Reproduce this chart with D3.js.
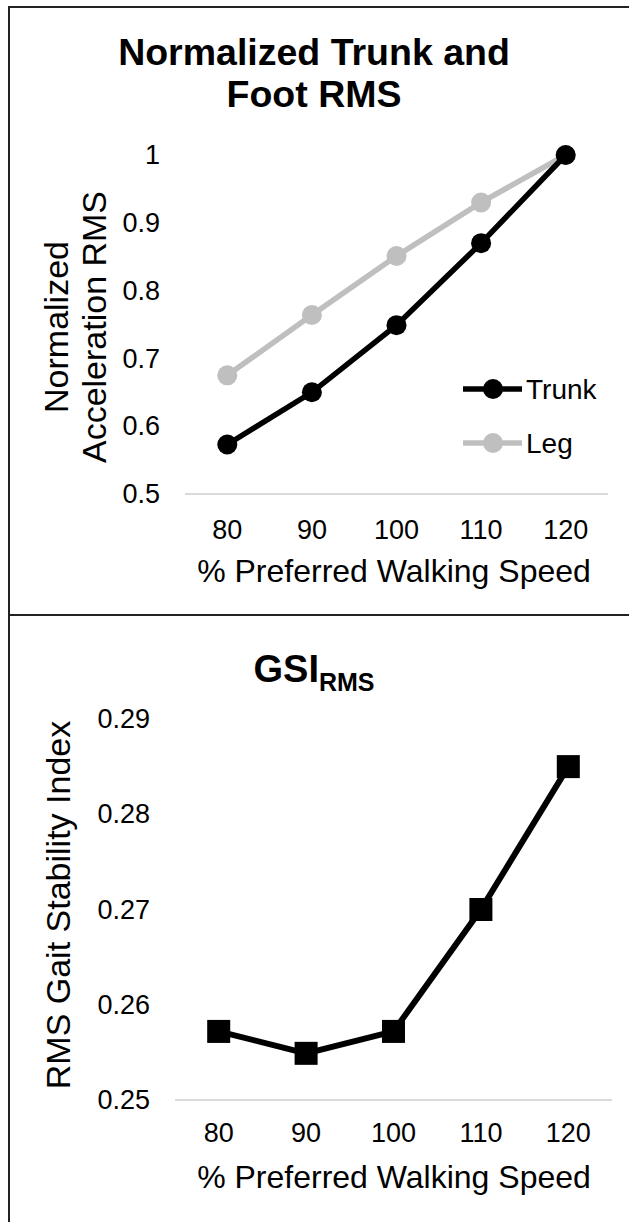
<!DOCTYPE html>
<html>
<head>
<meta charset="utf-8">
<script src="https://cdn.jsdelivr.net/npm/d3@7"></script>
<style>
  body { margin: 0; background: #fff; }
  svg { display: block; font-family: "Liberation Sans", Arial, sans-serif; }
</style>
</head>
<body>
<svg id="chart" width="629" height="1222"></svg>
<script>
// data
var speeds = [80, 90, 100, 110, 120];
var trunkRms = [0.573, 0.650, 0.749, 0.870, 1.0];
var legRms = [0.675, 0.764, 0.851, 0.930, 1.0];
var gsiRms = [0.2572, 0.2549, 0.2572, 0.2700, 0.2850];
var topTicks = [0.5, 0.6, 0.7, 0.8, 0.9, 1];
var bottomTicks = ['0.25', '0.26', '0.27', '0.28', '0.29'];
var xTitle = '% Preferred Walking Speed';

var svg = d3.select('#chart');

// frame lines
svg.append('line').attr('x1', 9).attr('x2', 629).attr('y1', 7).attr('y2', 7)
  .attr('stroke', '#222').attr('stroke-width', 2);
svg.append('line').attr('x1', 9).attr('x2', 629).attr('y1', 615).attr('y2', 615)
  .attr('stroke', '#222').attr('stroke-width', 2);
svg.append('line').attr('x1', 9).attr('x2', 9).attr('y1', 6).attr('y2', 1222)
  .attr('stroke', '#222').attr('stroke-width', 2);

function styleAxis(g, size) {
  g.select('.domain').remove();
  g.selectAll('text')
    .attr('font-family', '"Liberation Sans", Arial, sans-serif')
    .attr('font-size', size)
    .attr('fill', '#000');
}

// ---------- top chart ----------
var x1 = d3.scaleBand().domain(speeds).range([185, 608]);
var y1 = d3.scaleLinear().domain([0.5, 1]).range([494, 155]);
var cx1 = function (d) { return x1(d) + x1.bandwidth() / 2; };

var topG = svg.append('g');

topG.append('text').attr('x', 314).attr('y', 65).attr('text-anchor', 'middle')
  .attr('font-size', 37.5).attr('font-weight', 'bold').text('Normalized Trunk and');
topG.append('text').attr('x', 314).attr('y', 107).attr('text-anchor', 'middle')
  .attr('font-size', 37.5).attr('font-weight', 'bold').text('Foot RMS');

topG.append('line')
  .attr('x1', x1.range()[0]).attr('x2', x1.range()[1])
  .attr('y1', y1(0.5)).attr('y2', y1(0.5))
  .attr('stroke', '#d9d9d9').attr('stroke-width', 2);

topG.append('g')
  .attr('transform', 'translate(185,0)')
  .call(d3.axisLeft(y1).tickValues(topTicks).tickSize(0).tickPadding(25).tickFormat(function (d) { return String(d); }))
  .call(styleAxis, 27);

topG.append('g')
  .attr('transform', 'translate(0,' + y1(0.5) + ')')
  .call(d3.axisBottom(x1).tickSize(0).tickPadding(26))
  .call(styleAxis, 27);

topG.append('text').attr('x', 394).attr('y', 582).attr('text-anchor', 'middle')
  .attr('font-size', 32).text(xTitle);

var yt = topG.append('text').attr('transform', 'translate(0,327) rotate(-90)')
  .attr('text-anchor', 'middle').attr('font-size', 34);
yt.append('tspan').attr('x', 0).attr('y', 68).text('Normalized');
yt.append('tspan').attr('x', 0).attr('y', 106).text('Acceleration RMS');

var line1 = d3.line()
  .x(function (d, i) { return cx1(speeds[i]); })
  .y(function (d) { return y1(d); });

var series = [
  { name: 'Leg', values: legRms, color: '#bfbfbf', ly: 443 },
  { name: 'Trunk', values: trunkRms, color: '#000', ly: 389 }
];

series.forEach(function (s) {
  topG.append('path').datum(s.values)
    .attr('d', line1).attr('fill', 'none')
    .attr('stroke', s.color).attr('stroke-width', 5.5);
  topG.selectAll(null).data(s.values).enter().append('circle')
    .attr('cx', function (d, i) { return cx1(speeds[i]); })
    .attr('cy', function (d) { return y1(d); })
    .attr('r', 10).attr('fill', s.color);

  // legend
  topG.append('line').attr('x1', 463).attr('x2', 522).attr('y1', s.ly).attr('y2', s.ly)
    .attr('stroke', s.color).attr('stroke-width', 5.5);
  topG.append('circle').attr('cx', 493).attr('cy', s.ly).attr('r', 10).attr('fill', s.color);
  topG.append('text').attr('x', 526).attr('y', s.ly).attr('dy', '0.36em')
    .attr('font-size', 28).text(s.name);
});

// ---------- bottom chart ----------
var x2 = d3.scaleBand().domain(speeds).range([175, 612]);
var y2 = d3.scaleLinear().domain([0.25, 0.29]).range([1100, 719]);
var cx2 = function (d) { return x2(d) + x2.bandwidth() / 2; };

var botG = svg.append('g');

var t2 = botG.append('text').attr('x', 314).attr('y', 682).attr('text-anchor', 'middle')
  .attr('font-size', 38).attr('font-weight', 'bold');
t2.append('tspan').text('GSI');
t2.append('tspan').attr('font-size', 25).attr('dy', 9).text('RMS');

botG.append('line')
  .attr('x1', x2.range()[0]).attr('x2', x2.range()[1])
  .attr('y1', y2(0.25)).attr('y2', y2(0.25))
  .attr('stroke', '#d9d9d9').attr('stroke-width', 2);

botG.append('g')
  .attr('transform', 'translate(175,0)')
  .call(d3.axisLeft(y2).tickValues(bottomTicks.map(Number)).tickSize(0).tickPadding(25)
    .tickFormat(function (d, i) { return bottomTicks[i]; }))
  .call(styleAxis, 27);

botG.append('g')
  .attr('transform', 'translate(0,' + y2(0.25) + ')')
  .call(d3.axisBottom(x2).tickSize(0).tickPadding(23))
  .call(styleAxis, 27);

botG.append('text').attr('x', 394).attr('y', 1188).attr('text-anchor', 'middle')
  .attr('font-size', 32).text(xTitle);

botG.append('text').attr('transform', 'translate(70,905) rotate(-90)')
  .attr('text-anchor', 'middle').attr('font-size', 34).text('RMS Gait Stability Index');

botG.append('path').datum(gsiRms)
  .attr('d', d3.line().x(function (d, i) { return cx2(speeds[i]); }).y(function (d) { return y2(d); }))
  .attr('fill', 'none').attr('stroke', '#000').attr('stroke-width', 6);

botG.selectAll(null).data(gsiRms).enter().append('rect')
  .attr('x', function (d, i) { return cx2(speeds[i]) - 11.5; })
  .attr('y', function (d) { return y2(d) - 11.5; })
  .attr('width', 23).attr('height', 23).attr('fill', '#000');
</script>
</body>
</html>
